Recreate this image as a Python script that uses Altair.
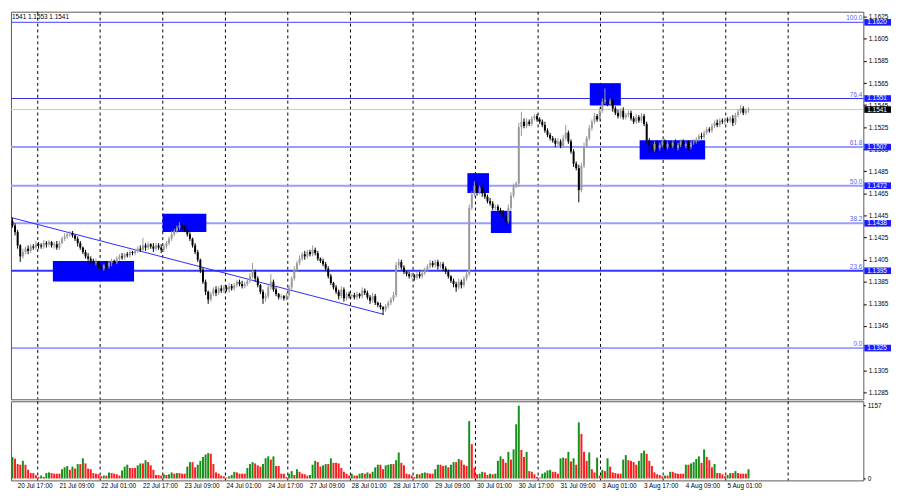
"""EURUSD H1 candles with Fibonacci levels and volumes, MT4 style."""

import altair as alt
import pandas as pd

# Prices are stored as pips above 1.0 (1442 -> 1.1442)
OPEN_FIRST = 1440
CLOSE = [
    1436, 1430, 1418, 1408, 1412, 1415, 1413, 1417, 1416, 1419, 1418,
    1417, 1420, 1419, 1421, 1418, 1419, 1416, 1420, 1424, 1426, 1428,
    1429, 1427, 1424, 1420, 1416, 1412, 1408, 1406, 1404, 1402, 1403, 1399,
    1397, 1400, 1399, 1402, 1404, 1403, 1406, 1408, 1407, 1410, 1409, 1412, 1411, 1413,
    1415, 1414, 1418, 1416, 1419, 1417, 1415, 1418, 1416, 1414, 1417,
    1420, 1424, 1428, 1431, 1434, 1436, 1435, 1432, 1428, 1424, 1418,
    1412, 1405, 1396, 1385, 1376, 1369,
    1374, 1378, 1375, 1379, 1377, 1380, 1378, 1381, 1379, 1382,
    1385, 1383, 1381, 1383, 1386, 1390, 1394, 1388,
    1382, 1376, 1370, 1372, 1380, 1385, 1378, 1374, 1371, 1372, 1370, 1373,
    1380, 1388, 1396, 1402, 1406, 1410, 1408, 1412, 1410, 1414, 1411, 1406, 1404, 1401,
    1397, 1390, 1384, 1380, 1376, 1372, 1378, 1370, 1374, 1372, 1373, 1371, 1374, 1372, 1377, 1375,
    1371, 1368, 1372, 1366, 1364, 1362, 1360, 1363, 1366, 1369, 1373, 1400, 1403,
    1398, 1394, 1392, 1390, 1391, 1389, 1392, 1390, 1393, 1396, 1399, 1402, 1400, 1403, 1399, 1401, 1397,
    1394, 1390, 1386, 1383, 1380, 1385, 1382, 1388, 1392, 1452, 1464,
    1472, 1466, 1470, 1465, 1462, 1458, 1456, 1452, 1453, 1450, 1448, 1445, 1440, 1452, 1463, 1472, 1474,
    1525, 1530, 1526, 1530, 1528, 1533, 1535, 1532, 1530, 1527, 1522, 1518, 1515, 1513, 1510, 1512,
    1508, 1515, 1520, 1512, 1503, 1492, 1488, 1468, 1490, 1508, 1515, 1524, 1530, 1535, 1532,
    1540, 1548, 1550, 1546, 1549, 1542, 1538, 1535, 1540, 1534, 1536, 1538, 1533, 1530, 1534, 1531, 1535, 1528,
    1513, 1508, 1505, 1510, 1506, 1509, 1512, 1507, 1510, 1508, 1511, 1506, 1509, 1512, 1508, 1510, 1507, 1511, 1512,
    1514, 1517, 1516, 1520, 1523, 1522, 1526, 1529, 1527, 1531, 1530, 1532, 1531, 1533, 1529, 1536, 1539, 1542, 1538, 1540, 1541,
]
UP_WICK = [
    3, 2, 2, 1, 3, 2, 3, 2, 2, 3, 2,
    2, 3, 2, 2, 1, 2, 3, 2, 2, 3, 2,
    2, 2, 1, 2, 2, 1, 2, 3, 2, 2, 3, 1,
    2, 1, 3, 2, 2, 1, 2, 2, 3, 1, 2, 2, 1, 2,
    2, 3, 7, 2, 2, 1, 3, 2, 2, 3, 2,
    2, 2, 3, 2, 2, 3, 2, 1, 2, 2, 1,
    2, 2, 1, 2, 2, 1,
    2, 2, 3, 2, 3, 2, 2, 3, 2, 2,
    2, 2, 3, 2, 2, 3, 8, 2,
    2, 1, 2, 3, 2, 7, 2, 2, 1, 2, 1, 2,
    2, 2, 3, 2, 3, 2, 3, 2, 2, 4, 2, 2, 1, 2,
    2, 2, 2, 1, 2, 2, 3, 2, 2, 2, 1, 2, 2, 1, 3, 2,
    2, 2, 3, 2, 1, 2, 1, 2, 2, 2, 3, 3, 3,
    2, 2, 1, 2, 2, 1, 2, 2, 3, 2, 2, 3, 2, 2, 2, 2, 2,
    2, 2, 1, 2, 2, 3, 2, 2, 3, 3, 3,
    4, 3, 2, 2, 2, 2, 3, 2, 2, 2, 2, 2, 1, 3, 3, 2, 2,
    4, 9, 3, 3, 2, 2, 2, 2, 2, 2, 3, 2, 2, 2, 2, 3,
    2, 3, 7, 2, 2, 2, 2, 3, 3, 3, 2, 3, 2, 3, 2,
    3, 3, 10, 3, 2, 2, 2, 3, 2, 3, 2, 2, 2, 2, 3, 2, 3, 2,
    2, 2, 2, 2, 3, 2, 2, 2, 2, 2, 2, 3, 2, 2, 2, 2, 3, 2, 2,
    2, 2, 3, 2, 2, 2, 2, 2, 3, 2, 2, 2, 2, 2, 3, 2, 2, 3, 2, 2, 2,
]
DN_WICK = [
    2, 3, 3, 5, 2, 2, 3, 2, 2, 2, 3,
    2, 2, 3, 2, 2, 3, 2, 2, 1, 2, 2,
    2, 2, 2, 3, 2, 2, 2, 2, 3, 2, 2, 2,
    2, 2, 2, 2, 3, 2, 2, 2, 2, 2, 2, 2, 2, 2,
    2, 2, 2, 3, 2, 2, 3, 2, 2, 3, 2,
    2, 2, 2, 2, 2, 2, 3, 2, 2, 2, 2,
    2, 2, 3, 2, 3, 4,
    2, 2, 3, 2, 2, 2, 2, 3, 2, 2,
    2, 2, 2, 2, 2, 2, 2, 3,
    2, 2, 5, 3, 2, 2, 2, 2, 2, 2, 2, 2,
    2, 2, 2, 2, 2, 2, 3, 2, 2, 2, 2, 2, 2, 2,
    2, 2, 2, 2, 2, 3, 2, 3, 2, 2, 2, 2, 2, 2, 2, 2,
    2, 3, 2, 2, 2, 2, 5, 2, 2, 2, 2, 2, 3,
    2, 2, 2, 2, 2, 3, 2, 2, 2, 2, 2, 2, 2, 2, 3, 2, 2,
    2, 2, 2, 3, 4, 2, 3, 2, 2, 2, 2,
    2, 3, 2, 3, 2, 2, 2, 2, 2, 2, 2, 2, 5, 2, 2, 2, 2,
    3, 8, 2, 2, 2, 2, 2, 2, 2, 2, 2, 2, 2, 2, 3, 2,
    2, 2, 2, 2, 2, 3, 2, 11, 2, 2, 2, 2, 2, 2, 2,
    2, 2, 2, 2, 2, 3, 2, 2, 2, 2, 2, 2, 2, 2, 2, 2, 2, 2,
    2, 6, 3, 2, 3, 2, 2, 3, 2, 2, 2, 3, 2, 2, 2, 2, 3, 2, 2,
    2, 2, 2, 2, 2, 2, 2, 2, 2, 2, 2, 3, 2, 2, 3, 2, 2, 2, 2, 2, 2,
]
VOLUME = [
    340, 314, 228, 218, 279, 218, 137, 86, 86, 51,
    25, 46, 25, 86, 96, 86, 76, 76, 76, 147,
    177, 198, 137, 188, 157, 228, 228, 319, 238, 157,
    147, 86, 76, 66, 35, 46, 46, 96, 86, 76,
    66, 46, 127, 188, 218, 167, 167, 167, 208, 238,
    238, 289, 259, 208, 137, 56, 56, 46, 66, 56,
    66, 96, 76, 86, 86, 76, 76, 188, 259, 259,
    177, 218, 279, 340, 380, 401, 390, 228, 96, 76,
    46, 35, 15, 35, 56, 106, 96, 76, 76, 76,
    167, 228, 259, 238, 208, 188, 228, 319, 350, 299,
    350, 198, 198, 76, 76, 25, 76, 117, 56, 147,
    106, 76, 66, 46, 56, 218, 279, 259, 188, 208,
    228, 228, 319, 248, 248, 238, 167, 106, 76, 46,
    76, 46, 46, 76, 86, 76, 96, 76, 106, 177,
    218, 218, 147, 208, 218, 228, 228, 289, 411, 248,
    208, 76, 66, 46, 25, 66, 66, 86, 96, 86,
    76, 76, 147, 218, 218, 198, 208, 177, 218,
    259, 259, 309, 289, 218, 198, 907, 542, 167, 66,
    76, 106, 96, 56, 76, 66, 76, 279, 350, 309,
    248, 421, 299, 461, 857, 1151, 451, 340, 421, 117,
    106, 66, 25, 15, 76, 96, 127, 137, 106, 106,
    76, 319, 330, 319, 421, 269, 319, 218, 887, 705,
    421, 279, 411, 147, 96, 330, 46, 137, 117, 319,
    188, 96, 86, 76, 76, 299, 370, 289, 279, 259,
    218, 279, 401, 441, 390, 279, 198, 96, 66, 56,
    35, 46, 46, 106, 106, 86, 76, 76, 76, 218,
    218, 238, 259, 309, 350, 248, 461, 340, 289, 177,
    228, 86, 86, 66, 35, 56, 86, 86, 117, 86,
    76, 76, 76, 147,
]

FIB_LEVELS = ["100.0", "76.4", "61.8", "50.0", "38.2", "23.6", "0.0"]
FIB_PRICES = [1.1620, 1.1551, 1.1507, 1.1472, 1.1438, 1.1395, 1.1325]
LAST_PRICE = 1.1541
HEADER = "1541 1.1553 1.1541"

# 1.1325 sits under the 0.0 level box, so it is left out
PRICE_TICKS = [1.1285, 1.1305, 1.1345, 1.1365, 1.1385, 1.1405, 1.1425,
               1.1445, 1.1465, 1.1485, 1.1505, 1.1525, 1.1545, 1.1565, 1.1585,
               1.1605, 1.1625]
VOL_TICKS = [0, 1157]

# blue zones (bar index span, price span)
ZONE_BAR0 = [15.5, 57.5, 174.3, 183.3, 221.2, 240.3]
ZONE_BAR1 = [46.6, 74.3, 182.6, 191.2, 233.1, 265.4]
ZONE_TOP = [1.14038, 1.14467, 1.14834, 1.14493, 1.15649, 1.15132]
ZONE_BOT = [1.13854, 1.14300, 1.14654, 1.14292, 1.15447, 1.14957]

TREND_BAR = [-0.56, 142.1]
TREND_PRICE = [1.14432, 1.13556]

GRID_BARS = [9.7, 33.6, 57.6, 81.6, 105.5, 129.5, 153.5, 177.4, 201.4,
             225.3, 249.3, 273.3, 297.2]
TIME_BARS = [2, 18, 34, 50, 66, 82, 98, 114, 130, 146, 162, 178, 194, 210,
             226, 242, 258, 274]
TIME_LABELS = ["20 Jul 17:00", "21 Jul 09:00", "22 Jul 01:00", "22 Jul 17:00",
               "23 Jul 09:00", "24 Jul 01:00", "24 Jul 17:00", "27 Jul 09:00",
               "28 Jul 01:00", "28 Jul 17:00", "29 Jul 09:00", "30 Jul 01:00",
               "30 Jul 17:00", "31 Jul 09:00", "3 Aug 01:00", "3 Aug 17:00",
               "4 Aug 09:00", "5 Aug 01:00"]

FONT = "Liberation Sans"
W, H1, H2 = 862, 392, 80

# fib line styles: colour, width
FIB_STYLE = {
    "100.0": ("#3c3cff", 1), "76.4": ("#3030e0", 1), "61.8": ("#9c9cff", 2),
    "50.0": ("#9c9cff", 2), "38.2": ("#9c9cff", 2), "23.6": ("#3434ff", 2),
    "0.0": ("#4a4aff", 1),
}

opens = [OPEN_FIRST] + CLOSE[:-1]
rows = []
for i, (o, c, u, d, v) in enumerate(zip(opens, CLOSE, UP_WICK, DN_WICK, VOLUME)):
    prev_v = VOLUME[i - 1] if i else 0
    rows.append({
        "bar": i,
        "open": 1 + o / 10000,
        "close": 1 + c / 10000,
        "high": 1 + (max(o, c) + u) / 10000,
        "low": 1 + (min(o, c) - d) / 10000,
        "vol": v,
        "zero": 0,
        "vdir": "up" if v > prev_v else "down",
    })
df = pd.DataFrame(rows)

fib_df = pd.DataFrame({"level": FIB_LEVELS, "p": FIB_PRICES})
fib_df["lo"] = fib_df["p"] - 0.0003
fib_df["hi"] = fib_df["p"] + 0.0003
fib_df["txt"] = fib_df["p"].map(lambda p: f"{p:.4f}")
last_df = pd.DataFrame({"p": [LAST_PRICE], "txt": [f"{LAST_PRICE:.4f}"]})
last_df["lo"] = last_df["p"] - 0.0003
last_df["hi"] = last_df["p"] + 0.0003
zone_df = pd.DataFrame({"b0": ZONE_BAR0, "b1": ZONE_BAR1, "p0": ZONE_BOT, "p1": ZONE_TOP})
trend_df = pd.DataFrame({"bar": TREND_BAR, "p": TREND_PRICE})
grid_df = pd.DataFrame({"bar": GRID_BARS})
time_df = pd.DataFrame({"bar": TIME_BARS, "label": TIME_LABELS})
head_df = pd.DataFrame({"t": [HEADER]})

xscale = alt.Scale(domain=[-0.56, 326.0], nice=False, zero=False, padding=0)
yscale = alt.Scale(domain=[1.12786, 1.16296], nice=False, zero=False, padding=0)
yaxis = alt.Axis(orient="right", values=PRICE_TICKS, format=".4f", title=None,
                 labelFont=FONT, labelFontSize=6.5, labelColor="#000",
                 tickColor="#000", tickSize=3, labelPadding=2, domain=False, grid=False)


def X(field):
    return alt.X(field, scale=xscale, axis=None)


def Y(field):
    return alt.Y(field, scale=yscale, axis=yaxis)


grid = alt.Chart(grid_df).mark_rule(color="#000", strokeDash=[3, 3], strokeWidth=1).encode(x=X("bar:Q"))
last_line = alt.Chart(last_df).mark_rule(color="#c8c8c8", strokeWidth=1).encode(y=Y("p:Q"))

fib_lines = []
for lvl in FIB_LEVELS:
    col, sw = FIB_STYLE[lvl]
    fib_lines.append(
        alt.Chart(fib_df).transform_filter(alt.datum.level == lvl)
        .mark_rule(color=col, strokeWidth=sw).encode(y=Y("p:Q"))
    )

fib_text = alt.Chart(fib_df).mark_text(
    align="right", baseline="bottom", dy=-1, font=FONT, fontSize=6.5, color="#5c5cff"
).encode(x=alt.value(W - 1), y=Y("p:Q"), text="level:N")

zones = alt.Chart(zone_df).mark_rect(color="#0000ff").encode(
    x=X("b0:Q"), x2="b1:Q", y=Y("p0:Q"), y2="p1:Q"
)
trend = alt.Chart(trend_df).mark_line(color="#2a2aff", strokeWidth=1).encode(x=X("bar:Q"), y=Y("p:Q"))

candle_color = alt.condition(alt.datum.close >= alt.datum.open, alt.value("#9a9a9a"), alt.value("#000000"))
wicks = alt.Chart(df).mark_rule(strokeWidth=1).encode(
    x=X("bar:Q"), y=Y("low:Q"), y2="high:Q", color=candle_color
)
bodies = alt.Chart(df).mark_bar(size=2).encode(
    x=X("bar:Q"), y=Y("open:Q"), y2="close:Q", color=candle_color
)

fib_boxes = alt.Chart(fib_df).mark_rect(color="#1c1cff").encode(
    x=alt.value(W + 1), x2=alt.value(W + 28), y=Y("lo:Q"), y2="hi:Q"
)
fib_vals = alt.Chart(fib_df).mark_text(
    align="left", baseline="middle", font=FONT, fontSize=6.5, color="#ffffff"
).encode(x=alt.value(W + 4), y=Y("p:Q"), text="txt:N")
last_box = alt.Chart(last_df).mark_rect(color="#000000").encode(
    x=alt.value(W + 1), x2=alt.value(W + 28), y=Y("lo:Q"), y2="hi:Q"
)
last_val = alt.Chart(last_df).mark_text(
    align="left", baseline="middle", font=FONT, fontSize=6.5, color="#ffffff"
).encode(x=alt.value(W + 4), y=Y("p:Q"), text="txt:N")
header = alt.Chart(head_df).mark_text(
    align="left", baseline="middle", font=FONT, fontSize=6.5, color="#000"
).encode(x=alt.value(1), y=alt.value(5), text="t:N")

price = alt.layer(
    grid, last_line, *fib_lines, fib_text, zones, trend, wicks, bodies,
    fib_boxes, fib_vals, last_box, last_val, header,
).properties(width=W, height=H1)

# volume panel
vscale = alt.Scale(domain=[-30, 1220], nice=False, zero=False, padding=0)
vaxis = alt.Axis(orient="right", values=VOL_TICKS, format="d", title=None,
                 labelFont=FONT, labelFontSize=6.5, labelColor="#000",
                 tickColor="#000", tickSize=2, labelPadding=2, domain=False, grid=False)

vgrid = alt.Chart(grid_df).mark_rule(color="#000", strokeDash=[3, 3], strokeWidth=1).encode(x=X("bar:Q"))
vbars = alt.Chart(df).mark_bar(size=2).encode(
    x=X("bar:Q"),
    y=alt.Y("vol:Q", scale=vscale, axis=vaxis),
    y2="zero:Q",
    color=alt.condition(alt.datum.vdir == "up", alt.value("#17901a"), alt.value("#ff1c1c")),
)
times = alt.Chart(time_df).mark_text(
    align="left", baseline="top", font=FONT, fontSize=6.5, color="#000"
).encode(x=X("bar:Q"), y=alt.value(H2 + 3), text="label:N")

volume = alt.layer(vgrid, vbars, times).properties(width=W, height=H2)

chart = (
    alt.vconcat(price, volume, spacing=0, padding=0, background="white")
    .configure_view(stroke="#5a5a5a", strokeWidth=1)
)

chart.save("out.html", embed_options={"renderer": "svg", "actions": False})
